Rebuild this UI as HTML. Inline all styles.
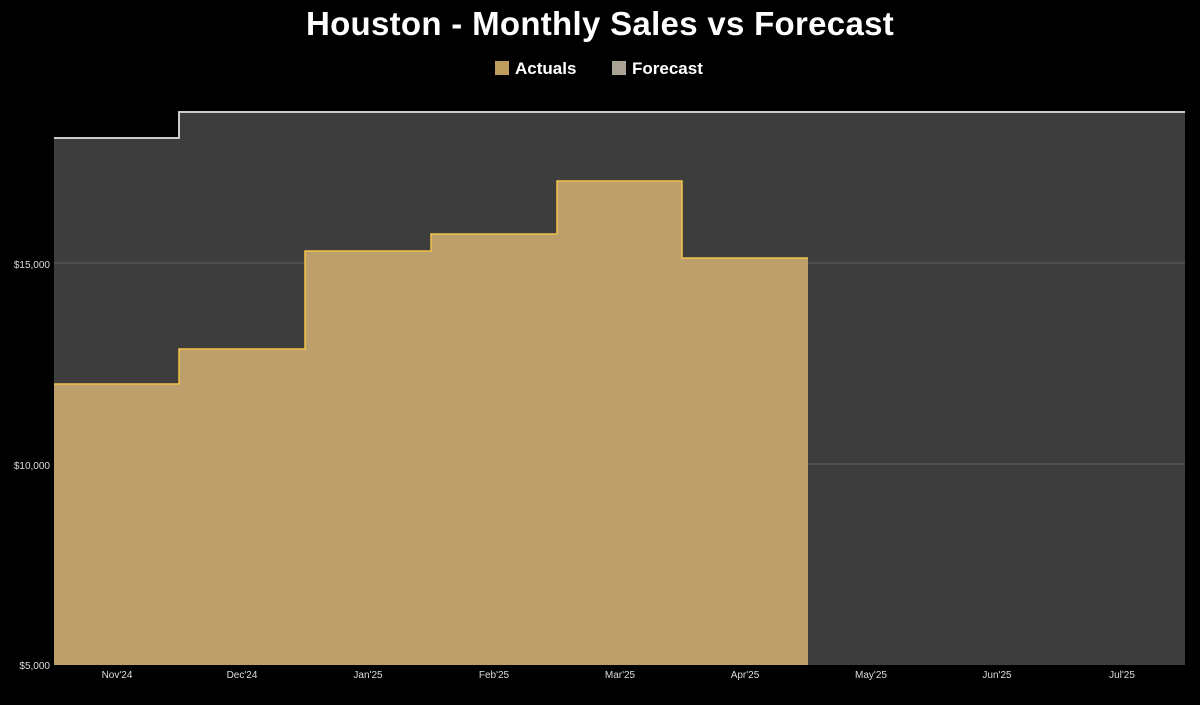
<!DOCTYPE html>
<html><head><style>
body{margin:0;background:#000;width:1200px;height:700px;overflow:hidden;font-family:"Liberation Sans",sans-serif}
</style></head><body>
<svg width="1200" height="700" xmlns="http://www.w3.org/2000/svg">
<rect width="1200" height="700" fill="#000"/>
<text x="600" y="35" fill="#fff" font-size="33" font-weight="bold" text-anchor="middle" letter-spacing="0.3" font-family="Liberation Sans, sans-serif">Houston - Monthly Sales vs Forecast</text>
<rect x="495" y="61" width="14" height="14" fill="#bd9c5e"/>
<text x="515" y="74" fill="#fff" font-size="17" font-weight="bold">Actuals</text>
<rect x="612" y="61" width="14" height="14" fill="#aaa294"/>
<text x="632" y="74" fill="#fff" font-size="17" font-weight="bold">Forecast</text>
<path d="M54,138 H179 V112 H1185 V665 H54 Z" fill="#3d3d3d"/>
<line x1="54" y1="263" x2="1185" y2="263" stroke="#5f5f5f" stroke-width="1"/>
<line x1="54" y1="464" x2="1185" y2="464" stroke="#5f5f5f" stroke-width="1"/>
<path d="M54,138 H179 V112 H1185" fill="none" stroke="#ccc" stroke-width="2"/>
<path d="M54,384 H179 V349 H305 V251 H431 V234 H557 V181 H682 V258 H808 V665 H54 Z" fill="#bd9f6c"/>
<path d="M54,384 H179 V349 H305 V251 H431 V234 H557 V181 H682 V258 H808" fill="none" stroke="#f2c24a" stroke-width="1.5"/>
<g fill="#ddd" font-size="10" text-anchor="end">
<text x="50" y="268">$15,000</text>
<text x="50" y="469">$10,000</text>
<text x="50" y="669">$5,000</text>
</g>
<g fill="#ddd" font-size="10" text-anchor="middle">
<text x="117" y="678">Nov'24</text>
<text x="242" y="678">Dec'24</text>
<text x="368" y="678">Jan'25</text>
<text x="494" y="678">Feb'25</text>
<text x="620" y="678">Mar'25</text>
<text x="745" y="678">Apr'25</text>
<text x="871" y="678">May'25</text>
<text x="997" y="678">Jun'25</text>
<text x="1122" y="678">Jul'25</text>
</g>
</svg>
</body></html>
